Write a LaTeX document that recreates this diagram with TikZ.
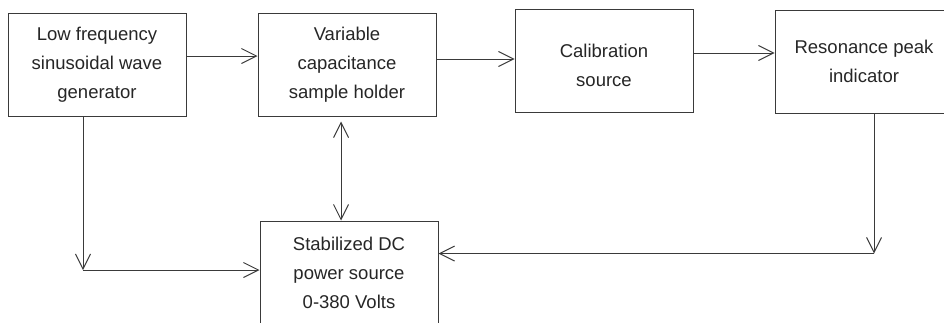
\documentclass[tikz,border=0pt]{standalone}
\usepackage{fontspec}
\setmainfont{Liberation Sans}
\usetikzlibrary{arrows.meta}
\definecolor{linecol}{HTML}{3A3A3A}
\definecolor{textcol}{HTML}{262626}
\begin{document}
\begin{tikzpicture}[x=1pt,y=-1pt,
  blk/.style={draw=linecol, line width=1pt, minimum width=178pt, minimum height=103pt,
    inner sep=0pt, align=center, text=textcol,
    font=\fontsize{18.5pt}{29pt}\selectfont},
  tipv/.tip={Straight Barb[length=15pt,width=15pt,line width=1pt]},
  conn/.style={draw=linecol, line width=1pt, -tipv},
  conn2/.style={draw=linecol, line width=1pt, tipv-tipv}]
\useasboundingbox (0,0) rectangle (944,322);
\fill[white] (0,0) rectangle (944,322);
\clip (0,0) rectangle (944,322);
\node[blk] (b1) at (97,64.5) {Low frequency\\sinusoidal wave\\generator};
\node[blk] (b2) at (347,64.5) {Variable\\capacitance\\sample holder};
\node[blk] (b3) at (604,61) {};
\node[text=textcol, align=center, font=\fontsize{18.5pt}{29pt}\selectfont] (t3) at (604,65) {Calibration\\source};
\node[blk] (b4) at (864,61.5) {Resonance peak\\indicator};
\node[blk] (b5) at (349,272.5) {Stabilized DC\\power source\\0-380 Volts};
\coordinate (c1) at (83,270);
\coordinate (c2) at (874,253.5);
% top row
\draw[conn] ([yshift=8.5pt]b1.east) -- ([yshift=8.5pt]b2.west);
\draw[conn] ([yshift=5.5pt]b2.east) -- ([yshift=2pt]b3.west);
\draw[conn] ([yshift=8pt]b3.east) -- ([yshift=8.5pt]b4.west);
% right feedback
\draw[conn] (b4.south -| c2) -- (c2);
\draw[conn] (c2) -- (b5.east |- c2);
% left feed
\draw[conn] (b1.south -| c1) -- (c1);
\draw[conn] (c1) -- (b5.west |- c1);
% vertical double arrow
\draw[conn2, shorten <=5pt] ([xshift=-6pt]b2.south) -- ([xshift=-8pt]b5.north);
\end{tikzpicture}
\end{document}
